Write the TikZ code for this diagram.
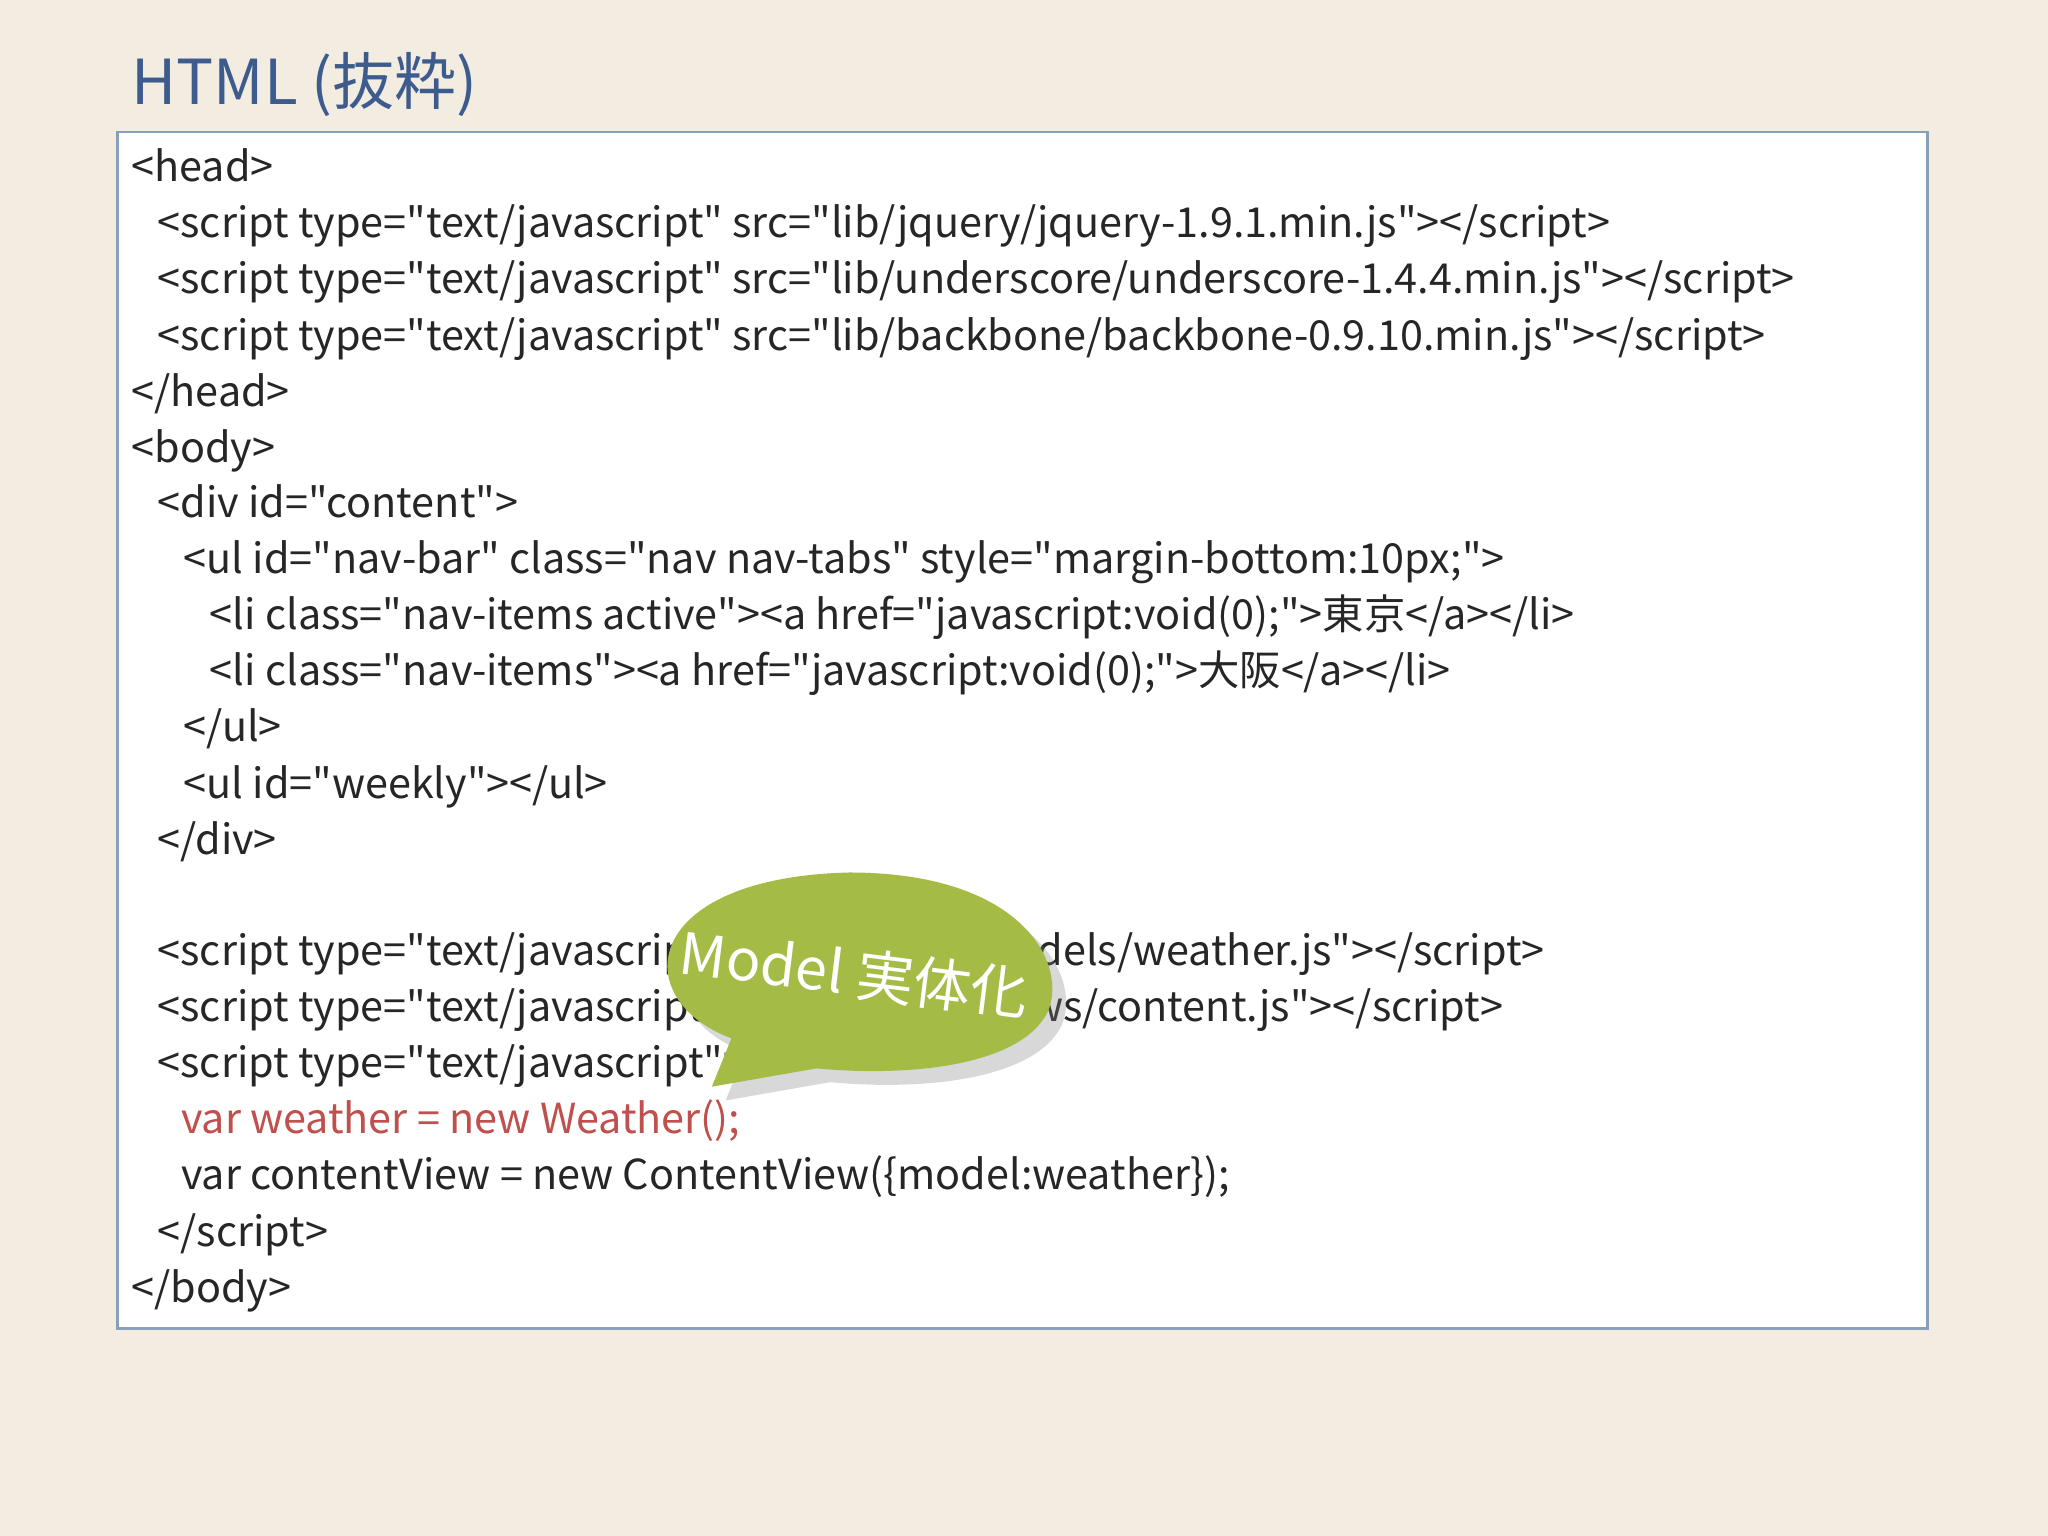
\documentclass[tikz,border=0pt]{standalone}
\usepackage{fontspec}
\setmainfont{Noto Sans CJK JP}[Ligatures=TeXOff]
\usetikzlibrary{shadows}
\definecolor{bg}{HTML}{F2EDE0}
\definecolor{titlec}{HTML}{3E5B8E}
\definecolor{boxc}{HTML}{8AA0B8}
\definecolor{redc}{HTML}{C0504D}
\definecolor{bubc}{HTML}{A4BC46}
\tikzset{code/.style={anchor=base west,inner sep=0pt,font=\fontsize{9pt}{10pt}\selectfont,text=black!85}}
\begin{document}
\begin{tikzpicture}[x=0.01cm,y=-0.01cm]
\fill[bg] (0,0) rectangle (1568,1176);
\node[anchor=base west,inner sep=0pt,text=titlec,font=\fontsize{13.5pt}{16pt}\selectfont] (title) at (100,80) {HTML (抜粋)};
\draw[boxc,fill=white,line width=0.6pt] (90,101) rectangle (1476,1017);
\node[code] (l1) at (100,139) {<head>};
\node[code] (l2) at (120,182) {<script type="text/javascript" src="lib/jquery/jquery-1.9.1.min.js"></script>};
\node[code] (l3) at (120,225) {<script type="text/javascript" src="lib/underscore/underscore-1.4.4.min.js"></script>};
\node[code] (l4) at (120,268) {<script type="text/javascript" src="lib/backbone/backbone-0.9.10.min.js"></script>};
\node[code] (l5) at (100,311) {</head>};
\node[code] (l6) at (100,354) {<body>};
\node[code] (l7) at (120,396) {<div id="content">};
\node[code] (l8) at (140,439) {<ul id="nav-bar" class="nav nav-tabs" style="margin-bottom:10px;">};
\node[code] (l9) at (160,482) {<li class="nav-items active"><a href="javascript:void(0);">東京</a></li>};
\node[code] (l10) at (160,525) {<li class="nav-items"><a href="javascript:void(0);">大阪</a></li>};
\node[code] (l11) at (140,568) {</ul>};
\node[code] (l12) at (140,611) {<ul id="weekly"></ul>};
\node[code] (l13) at (120,654) {</div>};
\node[code] (l14) at (120,739) {<script type="text/javascript" src="source/models/weather.js"></script>};
\node[code] (l15) at (120,782) {<script type="text/javascript" src="source/views/content.js"></script>};
\node[code] (l16) at (120,825) {<script type="text/javascript">};
\node[code,text=redc] (l17) at (138,868) {var weather = new Weather();};
\node[code] (l18) at (138,911) {var contentView = new ContentView(\{model:weather\});};
\node[code] (l19) at (120,954) {</script>};
\node[code] (l20) at (100,997) {</body>};
% bubble
\fill[bubc,drop shadow={shadow xshift=3pt,shadow yshift=-3pt,opacity=0.3}]
  (545,832) -- (560,795) .. controls (480,765) and (490,672) .. (650,668)
  .. controls (785,668) and (818,740) .. (802,775)
  .. controls (782,815) and (700,825) .. (625,818) -- cycle;
\node[text=white,rotate=-7,font=\fontsize{12.5pt}{15pt}\selectfont] (bub) at (654,745) {Model 実体化};
\end{tikzpicture}
\end{document}
